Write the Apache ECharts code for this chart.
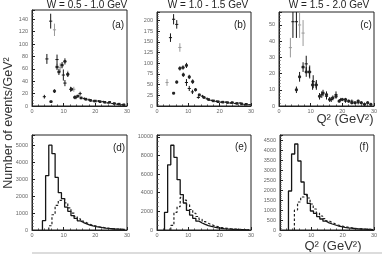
<!DOCTYPE html>
<html><head><meta charset="utf-8">
<script src="https://cdn.jsdelivr.net/npm/echarts@6/dist/echarts.min.js"></script>
<style>html,body{margin:0;padding:0;background:#fff}#c{width:382px;height:256px}</style>
</head><body><div id="c"></div>
<script>
// ---- text ----
const titles = ['W = 0.5 - 1.0 GeV', 'W = 1.0 - 1.5 GeV', 'W = 1.5 - 2.0 GeV'];
const panelTags = ['(a)', '(b)', '(c)', '(d)', '(e)', '(f)'];
const yName = 'Number of events/GeV²';
const xName = 'Q² (GeV²)';
// ---- axis scales ----
const xMin = 0, xMax = 30, xStep = 10;
const yMax = [155, 220, 58, 5600, 10200, 4750];
const yStep = [20, 25, 10, 1000, 2000, 500];
const yMinorSplit = [4, 5, 5, 5, 4, 5];

// ---- top panels: [Q2, value, error] ----
const aBlack = [[3.9,15,3],[4.7,76,8],[5.9,137,12],[7.9,75,8],[9.9,50,9],[10.4,37,5],[12.2,27,4],[13.9,14,3],[15.2,20,3],[16.5,12,2],[18,10,2],[19.5,8,2],[21,8,1.5],[22.5,7,1.5],[24,5,1.5],[25.5,4,1],[27,3,1],[28.5,2,1]];
const aGray = [[7.1,123,10],[8.9,62,7],[11.3,52,5],[13.2,27,4]];
const aSq = [[6.0,7,2],[7.1,24,3],[7.9,63,5],[8.5,55,5],[9.5,66,5],[10.4,72,5],[11.3,51,4],[12.5,27,3],[13.5,14,3],[14.5,16,2],[15.5,13,2],[17,11,2],[18.5,9,2],[20,8,1.5],[21.5,7,1.5],[23,6,1],[24.5,6,1],[26,4,1],[27.5,3,1],[29,2,1]];

const bBlack = [[4.3,160,10],[5.3,203,12],[6.3,191,10],[9.4,55,8],[10.3,41,6],[11.3,33,5],[13.2,20,3],[14.5,23,3],[16,17,3],[17.5,13,2],[19,11,2],[20.5,9,2],[22,9,2],[23.5,7,1.5],[25,6,1.5],[26.5,7,1.5],[28,4,1],[29.5,3,1]];
const bGray = [[3.2,55,8],[7.3,137,10],[11.3,57,5]];
const bSq = [[5.3,30,3],[6.3,56,4],[7.3,88,5],[8.3,90,5],[9.4,95,6],[8.4,73,5],[10.3,68,5],[11.4,57,5],[12.3,38,4],[13.5,26,3],[15,20,3],[16.5,15,2],[18,12,2],[19.5,10,2],[21,9,2],[22.5,8,1.5],[24,8,1.5],[25.5,6,1.5],[27,5,1],[28.5,4,1]];

const cBlack = [[4.4,52,10],[5.5,52,10],[8.6,26,5],[9.7,21,4],[10.8,15,4],[11.8,13,3],[13.5,7,2],[15,6,2],[16.5,4,1.5],[18,7,2],[19.5,4,1],[21,3,1],[23,3,1],[25,2,1],[27,1,1]];
const cGray = [[3.6,36,6],[6.5,50,8],[7.6,45,8]];
const cSq = [[5.5,10,2],[6.5,18,3],[7.6,24,3],[8.6,21,3],[9.6,21,3],[10.6,13,3],[11.7,13,2],[12.8,6,2],[13.9,8,2],[15,7,2],[16,4,1.5],[17,5,1.5],[18,6,1.5],[19,3,1],[20,4,1],[21,4,1],[22,3,1],[23,2,1],[24,2,1],[25,3,1],[26,2,1],[27,1,1],[28,2,1],[29,1,1]];

// ---- bottom panels: histograms, 1 GeV^2 bins from the given first edge ----
const dSolidStart = 3.3;
const dSolid = [550,3200,5000,4500,3100,2200,1850,1350,1100,850,680,540,440,360,290,240,200,165,135,110,90,75,60,50,40,30];
const dDashStart = 5.3;
const dDash = [250,900,1450,1750,1850,1600,1300,1000,800,650,520,420,340,280,230,190,155,125,100,80,65,50,40,30];

const eSolidStart = 2.4;
const eSolid = [1900,7000,9100,7800,5400,3800,2900,2100,1600,1250,950,750,600,480,380,300,240,190,150,120,95,75,60,45,35,25,20];
const eDashStart = 4.4;
const eDash = [500,1900,2500,3500,3200,2700,2200,1800,1450,1150,900,720,570,450,360,290,230,180,140,110,85,65,50,40,30];

const fSolidStart = 2.7;
const fSolid = [1950,3800,4300,3450,2400,1780,1330,950,830,670,550,440,360,300,250,200,165,135,110,90,75,60,50,40,30,25,20];
const fDashStart = 4.6;
const fDash = [1000,1400,1650,1750,1600,1300,1050,850,700,570,460,380,310,250,205,170,140,115,95,75,60,50,40,30,25];

// ---- layout ----
const FONT = '"Liberation Sans", Arial, sans-serif';
const grids = [
  {left:32, top:10, width:95, height:96},
  {left:157, top:12, width:94, height:94},
  {left:279, top:12, width:95, height:94},
  {left:32, top:135, width:95, height:95},
  {left:157, top:135, width:94, height:95},
  {left:280, top:135, width:94, height:95}
];

function histPoints(start, vals) {
  const pts = [[start, 0]];
  vals.forEach((v, i) => pts.push([start + i, v]));
  pts.push([start + vals.length, vals[vals.length - 1]]);
  pts.push([start + vals.length, 0]);
  return pts;
}

function errRender(kind, ymax) {
  return function (params, api) {
    const x = api.value(0), y = api.value(1), e = api.value(2);
    const c = api.coord([x, y]);
    const t = api.coord([x, Math.min(y + e, ymax)]);
    const b = api.coord([x, Math.max(y - e, 0)]);
    const l = api.coord([x - 0.5, y]);
    const r = api.coord([x + 0.5, y]);
    const color = kind === 'gray' ? '#9a9a9a' : '#151515';
    const ch = [
      {type:'line', shape:{x1:c[0], y1:t[1], x2:c[0], y2:b[1]}, style:{stroke:color, lineWidth:1}},
      {type:'line', shape:{x1:l[0], y1:c[1], x2:r[0], y2:c[1]}, style:{stroke:color, lineWidth:1}}
    ];
    if (kind === 'sq') ch.push({type:'rect', shape:{x:c[0]-1.3, y:c[1]-1.3, width:2.6, height:2.6}, style:{fill:'#222'}});
    return {type:'group', children:ch};
  };
}

const option = {
  animation: false,
  backgroundColor: '#fff',
  grid: grids.map(g => Object.assign({show:true, borderColor:'#222', borderWidth:1, backgroundColor:'transparent', containLabel:false, outerBoundsMode:'none'}, g)),
  xAxis: grids.map((g, i) => ({
    type:'value', gridIndex:i, min:xMin, max:xMax, interval:xStep,
    axisLine:{show:true, lineStyle:{color:'#222', width:1}},
    axisTick:{show:true, inside:true, length:3, lineStyle:{color:'#222'}},
    minorTick:{show:true, splitNumber:5, length:1.5, lineStyle:{color:'#444'}},
    splitLine:{show:false}, minorSplitLine:{show:false},
    axisLabel:{fontSize:5.5, color:'#666', margin:2.5, fontFamily:FONT, formatter:v => String(v)}
  })),
  yAxis: grids.map((g, i) => ({
    type:'value', gridIndex:i, min:0, max:yMax[i], interval:yStep[i],
    axisLine:{show:true, lineStyle:{color:'#222', width:1}},
    axisTick:{show:true, inside:true, length:3, lineStyle:{color:'#222'}},
    minorTick:{show:true, splitNumber:yMinorSplit[i], length:1.5, lineStyle:{color:'#444'}},
    splitLine:{show:false}, minorSplitLine:{show:false},
    axisLabel:{fontSize:5.5, color:'#666', margin:4, fontFamily:FONT, showMaxLabel:false, formatter:v => String(v)}
  })),
  series: [],
  graphic: []
};

const topSets = [[aBlack, aGray, aSq], [bBlack, bGray, bSq], [cBlack, cGray, cSq]];
topSets.forEach((set, i) => {
  [['black', set[0]], ['gray', set[1]], ['sq', set[2]]].forEach(([kind, d]) => {
    option.series.push({
      type:'custom', xAxisIndex:i, yAxisIndex:i, data:d,
      encode:{x:0, y:1}, renderItem:errRender(kind, yMax[i]), clip:true, silent:true
    });
  });
});

const botSets = [[dSolidStart, dSolid, dDashStart, dDash], [eSolidStart, eSolid, eDashStart, eDash], [fSolidStart, fSolid, fDashStart, fDash]];
botSets.forEach((s, j) => {
  const i = j + 3;
  option.series.push({
    type:'line', xAxisIndex:i, yAxisIndex:i, step:'end', showSymbol:false, symbol:'none',
    data:histPoints(s[0], s[1]), lineStyle:{color:'#151515', width:1.3}, clip:true, silent:true
  });
  option.series.push({
    type:'line', xAxisIndex:i, yAxisIndex:i, step:'end', showSymbol:false, symbol:'none',
    data:histPoints(s[2], s[3]), lineStyle:{color:'#222', width:1.2, type:[2.5, 2]}, clip:true, silent:true
  });
});

// texts
const titlePos = [[87, 5], [208, 5.5], [329, 5.5]];
titles.forEach((t, i) => option.graphic.push({
  type:'text', x:titlePos[i][0], y:titlePos[i][1],
  style:{text:t, font:'10px ' + FONT, fill:'#222', align:'center', verticalAlign:'middle'}
}));
const tagPos = [[118, 25], [240, 25], [366, 25], [119, 148], [241, 147], [364, 147]];
panelTags.forEach((t, i) => option.graphic.push({
  type:'text', x:tagPos[i][0], y:tagPos[i][1],
  style:{text:t, font:'10px ' + FONT, fill:'#222', align:'center', verticalAlign:'middle'}
}));
option.graphic.push({
  type:'text', x:9, y:123, rotation:Math.PI / 2,
  style:{text:yName, font:'12.5px ' + FONT, fill:'#333', align:'center', verticalAlign:'middle'}
});
option.graphic.push({
  type:'text', x:345, y:119,
  style:{text:xName, font:'13px ' + FONT, fill:'#333', align:'center', verticalAlign:'middle'}
});
option.graphic.push({
  type:'text', x:333, y:246,
  style:{text:xName, font:'13px ' + FONT, fill:'#333', align:'center', verticalAlign:'middle'}
});
option.graphic.push({
  type:'rect', shape:{x:32, y:252, width:350, height:2}, style:{fill:'#dcdcdc'}
});

const chart = echarts.init(document.getElementById('c'), null, {renderer:'canvas'});
chart.setOption(option);
</script>
</body></html>
